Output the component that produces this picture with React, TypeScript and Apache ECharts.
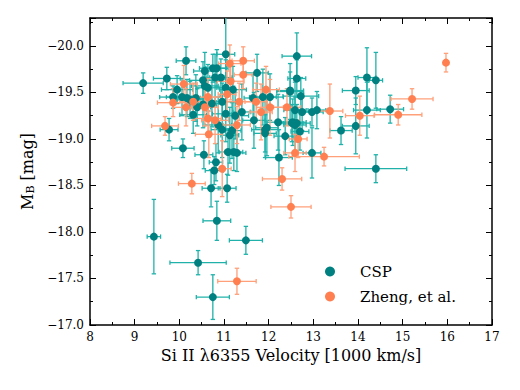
import React, { useEffect, useRef } from "react";
import * as echarts from "echarts";

// CSP sample: velocity [1000 km/s], M_B [mag], and their errors
const cspVel = [9.19, 10.15, 9.72, 9.95, 9.86, 9.77, 10.08, 10.55, 10.82, 10.78, 11.09, 11.22, 11.04, 10.75, 10.84, 10.57, 10.80, 10.93, 10.53, 11.74, 11.04, 11.20, 11.65, 12.03, 12.48, 12.59, 12.54, 12.59, 12.37, 12.23, 11.92, 11.67, 11.40, 11.25, 11.04, 10.87, 10.96, 11.18, 11.13, 10.31, 10.17, 10.06, 10.24, 10.37, 10.57, 10.64, 10.73, 10.96, 10.53, 10.40, 12.63, 12.63, 12.48, 12.72, 12.75, 12.97, 13.08, 12.52, 12.63, 12.97, 13.62, 13.95, 13.95, 14.20, 14.40, 14.20, 14.72, 14.40, 10.71, 11.07, 10.84, 11.49, 9.43, 10.42, 10.75, 11.87, 12.21, 11.96, 12.70, 11.29, 11.92];
const cspMag = [-19.60, -19.84, -19.65, -19.53, -19.45, -19.10, -18.90, -18.83, -18.75, -18.66, -18.86, -18.86, -19.91, -19.76, -19.76, -19.73, -19.66, -19.66, -19.63, -19.71, -19.55, -19.53, -19.44, -19.45, -19.51, -19.31, -19.18, -19.15, -19.03, -18.80, -19.10, -19.20, -19.29, -19.25, -19.27, -19.15, -19.10, -19.09, -19.04, -19.26, -19.44, -19.45, -19.42, -19.44, -19.57, -19.55, -19.38, -19.40, -19.37, -19.34, -19.89, -19.65, -19.52, -19.46, -19.29, -19.29, -19.31, -19.17, -19.17, -18.85, -19.09, -19.14, -19.52, -19.66, -19.63, -19.31, -19.32, -18.68, -18.47, -18.47, -18.12, -17.91, -17.95, -17.67, -17.30, -19.45, -19.18, -19.12, -19.08, -18.85, -19.06];
const cspVelErr = [0.45, 0.22, 0.3, 0.35, 0.3, 0.2, 0.25, 0.2, 0.15, 0.2, 0.2, 0.2, 0.2, 0.3, 0.25, 0.25, 0.2, 0.25, 0.3, 0.25, 0.2, 0.3, 0.2, 0.3, 0.3, 0.25, 0.3, 0.25, 0.25, 0.3, 0.3, 0.25, 0.2, 0.3, 0.3, 0.3, 0.25, 0.2, 0.2, 0.3, 0.3, 0.35, 0.3, 0.3, 0.3, 0.25, 0.3, 0.3, 0.3, 0.3, 0.33, 0.2, 0.3, 0.4, 0.2, 0.25, 0.2, 0.25, 0.3, 0.2, 0.25, 0.3, 0.3, 0.2, 0.15, 0.3, 0.3, 0.69, 0.2, 0.2, 0.31, 0.37, 0.15, 0.63, 0.37, 0.3, 0.25, 0.25, 0.2, 0.2, 0.25];
const cspMagErr = [0.11, 0.15, 0.12, 0.15, 0.12, 0.12, 0.1, 0.15, 0.2, 0.15, 0.25, 0.2, 0.45, 0.15, 0.2, 0.2, 0.25, 0.2, 0.2, 0.2, 0.3, 0.25, 0.25, 0.25, 0.3, 0.3, 0.25, 0.3, 0.2, 0.3, 0.3, 0.3, 0.3, 0.25, 0.3, 0.3, 0.3, 0.3, 0.3, 0.2, 0.2, 0.2, 0.2, 0.25, 0.2, 0.25, 0.25, 0.2, 0.25, 0.2, 0.25, 0.2, 0.2, 0.2, 0.2, 0.15, 0.2, 0.2, 0.2, 0.27, 0.15, 0.3, 0.15, 0.32, 0.3, 0.3, 0.15, 0.15, 0.2, 0.15, 0.21, 0.15, 0.4, 0.13, 0.24, 0.3, 0.3, 0.3, 0.2, 0.2, 0.2];

// Zheng, et al. sample
const zhengVel = [15.97, 15.21, 14.90, 14.04, 13.37, 12.41, 12.66, 12.59, 13.24, 12.30, 12.50, 11.29, 10.28, 10.96, 11.13, 11.43, 11.43, 10.10, 10.64, 11.07, 11.34, 11.15, 9.86, 10.15, 10.31, 10.57, 11.94, 12.03, 11.72, 11.83, 9.68, 10.64, 10.80, 11.29, 10.66];
const zhengMag = [-19.82, -19.43, -19.26, -19.25, -19.30, -19.34, -19.00, -18.85, -18.81, -18.57, -18.27, -17.47, -18.52, -18.68, -19.81, -19.84, -19.69, -19.59, -19.45, -19.48, -19.40, -19.62, -19.39, -19.34, -19.40, -19.34, -19.53, -19.34, -19.40, -19.29, -19.14, -19.22, -19.20, -19.15, -19.05];
const zhengVelErr = [0.05, 0.47, 0.53, 0.32, 0.29, 0.3, 0.2, 0.25, 0.79, 0.44, 0.45, 0.43, 0.3, 0.2, 0.25, 0.25, 0.2, 0.3, 0.3, 0.2, 0.3, 0.3, 0.35, 0.3, 0.3, 0.3, 0.3, 0.3, 0.25, 0.25, 0.3, 0.3, 0.3, 0.3, 0.3];
const zhengMagErr = [0.10, 0.11, 0.11, 0.21, 0.29, 0.2, 0.2, 0.2, 0.10, 0.12, 0.12, 0.14, 0.11, 0.3, 0.2, 0.15, 0.15, 0.2, 0.2, 0.25, 0.2, 0.2, 0.15, 0.2, 0.2, 0.2, 0.25, 0.3, 0.2, 0.3, 0.1, 0.2, 0.25, 0.2, 0.25];

const FONT = "DejaVu Serif";
const TEAL = "#008080";
const TEAL_ERR = "#20B2AA";
const CORAL = "#FF7F50";
const CORAL_ERR = "#FFA07A";

function rows(v: number[], m: number[], ve: number[], me: number[]) {
  // y plotted as -M so that brighter (more negative) is at top
  return v.map((x, i) => [x, -m[i], ve[i], me[i]]);
}

function errorSeries(name: string, data: number[][], color: string) {
  return {
    type: "custom",
    name,
    data,
    z: 2,
    clip: true,
    renderItem: (params: any, api: any) => {
      const x = api.value(0);
      const y = api.value(1);
      const xe = api.value(2);
      const ye = api.value(3);
      const l = api.coord([x - xe, y]);
      const r = api.coord([x + xe, y]);
      const t = api.coord([x, y + ye]);
      const b = api.coord([x, y - ye]);
      const cap = 2.2;
      const style = { stroke: color, lineWidth: 1.3, fill: null };
      return {
        type: "group",
        children: [
          { type: "line", shape: { x1: l[0], y1: l[1], x2: r[0], y2: r[1] }, style },
          { type: "line", shape: { x1: t[0], y1: t[1], x2: b[0], y2: b[1] }, style },
          { type: "line", shape: { x1: l[0], y1: l[1] - cap, x2: l[0], y2: l[1] + cap }, style },
          { type: "line", shape: { x1: r[0], y1: r[1] - cap, x2: r[0], y2: r[1] + cap }, style },
          { type: "line", shape: { x1: t[0] - cap, y1: t[1], x2: t[0] + cap, y2: t[1] }, style },
          { type: "line", shape: { x1: b[0] - cap, y1: b[1], x2: b[0] + cap, y2: b[1] }, style },
        ],
      };
    },
  };
}

export default function App() {
  const ref = useRef<HTMLDivElement>(null);
  useEffect(() => {
    if (!ref.current) return;
    const chart = echarts.init(ref.current, undefined, { renderer: "svg" });
    const csp = rows(cspVel, cspMag, cspVelErr, cspMagErr);
    const zheng = rows(zhengVel, zhengMag, zhengVelErr, zhengMagErr);

    const xBase = {
      type: "value",
      min: 8,
      max: 17,
      interval: 1,
      splitLine: { show: false },
      axisLine: { show: true, onZero: false, lineStyle: { color: "#000", width: 1.5 } },
      axisTick: { show: true, inside: true, length: 6, lineStyle: { color: "#000", width: 1 } },
      minorTick: { show: true, splitNumber: 2, length: 3, lineStyle: { color: "#000", width: 1 } },
    };
    const yBase = {
      type: "value",
      min: 17,
      max: 20.3,
      interval: 0.5,
      splitLine: { show: false },
      axisLine: { show: true, onZero: false, lineStyle: { color: "#000", width: 1.5 } },
      axisTick: { show: true, inside: true, length: 6, lineStyle: { color: "#000", width: 1 } },
      minorTick: { show: true, splitNumber: 2, length: 3, lineStyle: { color: "#000", width: 1 } },
    };

    chart.setOption({
      animation: false,
      backgroundColor: "#fff",
      grid: { left: 90, right: 28, top: 18, bottom: 65, containLabel: false },
      xAxis: [
        {
          ...xBase,
          position: "bottom",
          name: "Si II λ6355 Velocity [1000 km/s]",
          nameLocation: "middle",
          nameGap: 22,
          nameTextStyle: { fontFamily: FONT, fontSize: 16, color: "#000" },
          axisLabel: { fontFamily: FONT, fontSize: 12, color: "#000", margin: 6 },
        },
        { ...xBase, position: "top", axisLabel: { show: false } },
      ],
      yAxis: [
        {
          ...yBase,
          position: "left",
          name: "{m|M}{s|B}{m| [mag]}",
          nameLocation: "middle",
          nameRotate: 90,
          nameGap: 52,
          nameTextStyle: {
            fontFamily: FONT,
            color: "#000",
            rich: {
              m: { fontFamily: FONT, fontSize: 16, color: "#000" },
              s: { fontFamily: FONT, fontSize: 11, color: "#000", verticalAlign: "bottom", padding: [6, 0, 0, 0] },
            },
          },
          axisLabel: {
            fontFamily: FONT,
            fontSize: 12,
            color: "#000",
            margin: 6,
            formatter: (v: number) =>
              Math.abs(v * 2 - Math.round(v * 2)) < 1e-6 ? "\u2212" + v.toFixed(1) : "",
          },
        },
        { ...yBase, position: "right", axisLabel: { show: false } },
      ],
      legend: {
        data: ["CSP", "Zheng, et al."],
        orient: "vertical",
        left: 320,
        top: 259,
        icon: "circle",
        itemWidth: 10,
        itemHeight: 10,
        itemGap: 10,
        textStyle: { fontFamily: FONT, fontSize: 15, color: "#000", padding: [0, 0, 0, 20] },
      },
      series: [
        errorSeries("cspErr", csp, TEAL_ERR),
        {
          type: "scatter",
          name: "CSP",
          data: csp,
          symbolSize: 8,
          itemStyle: { color: TEAL, opacity: 1 },
          z: 3,
        },
        errorSeries("zhengErr", zheng, CORAL_ERR),
        {
          type: "scatter",
          name: "Zheng, et al.",
          data: zheng,
          symbolSize: 8,
          itemStyle: { color: CORAL, opacity: 1 },
          z: 3,
        },
      ],
    });
    return () => chart.dispose();
  }, []);
  return <div ref={ref} style={{ width: 520, height: 390, position: "absolute", left: 0, top: 0 }} />;
}
